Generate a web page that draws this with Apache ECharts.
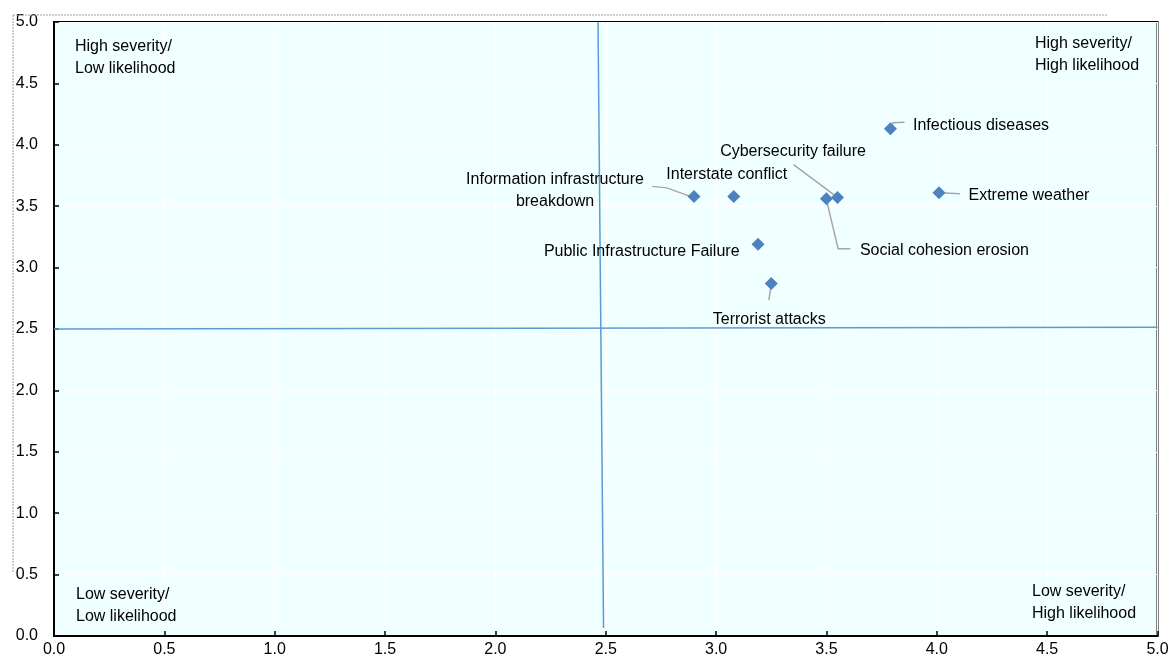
<!DOCTYPE html>
<html><head><meta charset="utf-8">
<script src="https://cdn.jsdelivr.net/npm/echarts@6/dist/echarts.min.js"></script>
<style>html,body{margin:0;padding:0;background:#fff}#c{width:1173px;height:659px}</style>
</head><body><div id="c"></div>
<script>
// ---- data ----
const riskNames = ['Information infrastructure\nbreakdown', 'Interstate conflict', 'Social cohesion erosion',
  'Cybersecurity failure', 'Infectious diseases', 'Extreme weather', 'Public Infrastructure Failure', 'Terrorist attacks'];
const likelihood = [2.90, 3.08, 3.50, 3.55, 3.79, 4.01, 3.19, 3.25];
const severity = [3.58, 3.58, 3.56, 3.57, 4.13, 3.61, 3.19, 2.87];
const axisTickLabels = ['0.0', '0.5', '1.0', '1.5', '2.0', '2.5', '3.0', '3.5', '4.0', '4.5', '5.0'];
const verticalDivider = [[2.465, 5.0], [2.49, 0.065]];
const horizontalDivider = [[0, 2.50], [5.0, 2.515]];
const quadrantLabels = ['High severity/\nLow likelihood', 'High severity/\nHigh likelihood',
  'Low severity/\nLow likelihood', 'Low severity/\nHigh likelihood'];

// ---- layout (label placement and leader-line offsets in pixels, not data) ----
const labelPlacement = [
  { position: 'top', dx: -139, dy: 28 },
  { position: 'top', dx: -7, dy: 1 },
  { position: 'right', dx: 22, dy: 52 },
  { position: 'left', dx: 40, dy: -46 },
  { position: 'right', dx: 11, dy: -3 },
  { position: 'right', dx: 18, dy: 3 },
  { position: 'left', dx: -7, dy: 7 },
  { position: 'bottom', dx: -2, dy: 14 }
];
const leaderOffsets = [
  [[-42, -10], [-27, -8.5], [-4, 0]],
  null,
  [[0, 1], [11.7, 50], [24, 50]],
  [[-44, -33], [-1, -1]],
  [[0, 0], [2.3, -6], [14, -6.7]],
  [[0, 0], [21, 1]],
  null,
  [[0, 0], [-2.4, 16.7]]
];
const quadrantPos = [[75, 36], [1035, 33], [76, 584], [1032, 581]];

const FONT = 'Liberation Sans, Arial, sans-serif';
const chart = echarts.init(document.getElementById('c'), null, { renderer: 'canvas' });

const points = likelihood.map((x, i) => ({
  value: [x, severity[i]],
  name: riskNames[i],
  label: { position: labelPlacement[i].position }
}));

const axisCommon = {
  type: 'value', min: 0, max: 5, interval: 0.5,
  axisLine: { show: true, onZero: false, lineStyle: { color: '#000', width: 2 } },
  axisTick: { show: true, inside: true, length: 5, lineStyle: { color: '#000', width: 1.5 } },
  splitLine: { show: true, lineStyle: { color: '#ffffff', width: 1 } },
  axisLabel: {
    fontSize: 16, color: '#000', fontFamily: FONT,
    formatter: (v) => axisTickLabels[Math.round(v / 0.5)]
  }
};

chart.setOption({
  animation: false,
  backgroundColor: '#ffffff',
  grid: { left: 54, right: 15.5, top: 22, bottom: 23, show: true, backgroundColor: '#F0FFFF', borderColor: '#000', borderWidth: 2 },
  xAxis: Object.assign({}, axisCommon, { axisLabel: Object.assign({}, axisCommon.axisLabel, { margin: 6 }) }),
  yAxis: Object.assign({}, axisCommon, { axisLabel: Object.assign({}, axisCommon.axisLabel, { margin: 16 }) }),
  graphic: [
    { type: 'line', shape: { x1: 13, y1: 15, x2: 1107, y2: 15 }, style: { stroke: '#a0a0a0', lineWidth: 1, lineDash: [2, 1] }, z: 100 },
    { type: 'line', shape: { x1: 13, y1: 15, x2: 13, y2: 572 }, style: { stroke: '#a0a0a0', lineWidth: 1, lineDash: [2, 1] }, z: 100 }
  ].concat(quadrantLabels.map((t, i) => ({
    type: 'text', left: quadrantPos[i][0], top: quadrantPos[i][1], z: 100,
    style: { text: t, fontSize: 16, fontFamily: FONT, fill: '#000', lineHeight: 22 }
  }))),
  series: [
    { type: 'line', data: verticalDivider, symbol: 'none', silent: true, z: 1,
      lineStyle: { color: '#5B9BD5', width: 1.5 } },
    { type: 'line', data: horizontalDivider, symbol: 'none', silent: true, z: 1,
      lineStyle: { color: '#5B9BD5', width: 1.5 } },
    {
      type: 'custom', silent: true, z: 3,
      data: likelihood.map((x, i) => [x, severity[i], i]),
      renderItem: (params, api) => {
        const idx = api.value(2);
        const offs = leaderOffsets[idx];
        if (!offs) return null;
        const c = api.coord([api.value(0), api.value(1)]);
        return {
          type: 'polyline',
          shape: { points: offs.map(o => [c[0] + o[0], c[1] + o[1]]) },
          style: { stroke: '#A6A6A6', lineWidth: 1.5, fill: null }
        };
      }
    },
    {
      type: 'scatter', data: points, symbol: 'diamond', symbolSize: 13, z: 5,
      itemStyle: { color: '#4F81BD', opacity: 1 },
      label: {
        show: true, formatter: (p) => p.name, fontSize: 16, fontFamily: FONT, color: '#000',
        distance: 5, lineHeight: 22, textBorderWidth: 0, opacity: 1
      },
      emphasis: { disabled: true },
      labelLayout: (p) => ({ dx: labelPlacement[p.dataIndex].dx, dy: labelPlacement[p.dataIndex].dy })
    }
  ]
});
</script>
</body></html>
